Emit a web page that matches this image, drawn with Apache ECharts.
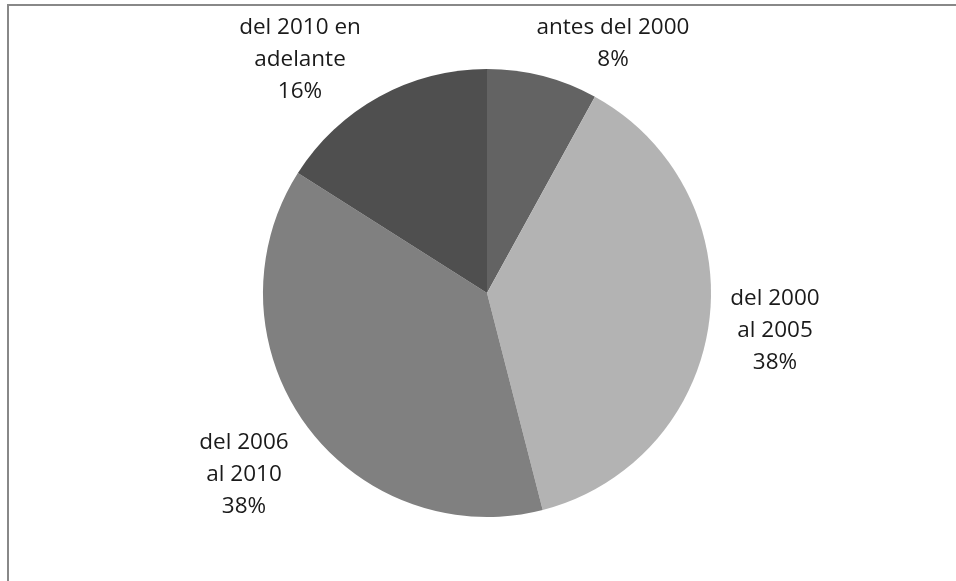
<!DOCTYPE html>
<html>
<head>
	<meta charset="utf-8" />
	<title>Pie</title>
	<style>
		* { padding: 0; margin: 0; }
		body { background: #fff; }
		#main { width: 956px; height: 581px; }
	</style>
</head>
<body>
	<div id="main"></div>
	<script src="https://cdn.jsdelivr.net/npm/echarts@6/dist/echarts.min.js"></script>
	<script type="text/javascript">
		// datos del gráfico
		var categorias = ['antes del 2000', 'del 2000\nal 2005', 'del 2006\nal 2010', 'del 2010 en\nadelante'];
		var valores = [8, 38, 38, 16];
		var colores = ['#636363', '#b3b3b3', '#808080', '#4f4f4f'];

		// posición de cada etiqueta (centro del texto)
		var posEtiquetas = [[613, 44], [775, 331], [244, 475], [300, 60]];

		var chart = echarts.init(document.getElementById('main'), null, { renderer: 'canvas' });

		var datos = categorias.map(function (c, i) {
			return { name: c, value: valores[i], itemStyle: { color: colores[i] } };
		});

		var option = {
			animation: false,
			graphic: [{
				type: 'rect',
				shape: { x: 8, y: 5, width: 1000, height: 700 },
				style: { fill: 'none', stroke: '#888888', lineWidth: 2 },
				silent: true
			}],
			series: [{
				type: 'pie',
				center: [487, 293],
				radius: 224,
				startAngle: 90,
				clockwise: true,
				data: datos,
				itemStyle: { borderWidth: 0 },
				label: {
					show: true,
					position: 'outside',
					formatter: function (p) { return p.name + '\n' + p.value + '%'; },
					fontFamily: 'Open Sans',
					fontSize: 22.5,
					lineHeight: 32,
					color: '#1a1a1a',
					align: 'center'
				},
				labelLine: { show: false },
				labelLayout: function (p) {
					var pos = posEtiquetas[p.dataIndex];
					return { x: pos[0], y: pos[1], align: 'center', verticalAlign: 'middle' };
				},
				emphasis: { disabled: true }
			}]
		};
		chart.setOption(option);
	</script>
</body>
</html>
